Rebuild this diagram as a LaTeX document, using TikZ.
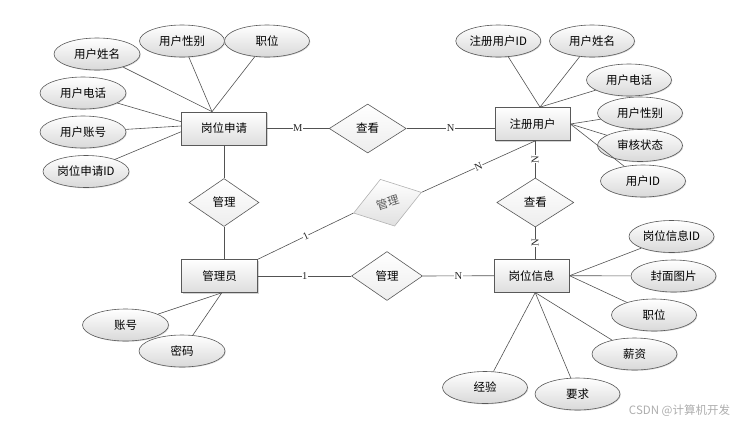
\documentclass[tikz,border=0pt]{standalone}
\usepackage{fontspec}
\setmainfont{Liberation Serif}
\newfontfamily\cjk{Noto Sans CJK SC}
\usetikzlibrary{shapes.geometric,shadows,calc}

\begin{document}
\begin{tikzpicture}[x=1pt,y=-1pt,
  ln/.style={draw=black!68, line width=0.6pt},
  txt/.style={font=\cjk\fontsize{11.5}{13}\selectfont},
  ent/.style={txt, rectangle, draw=black!65, line width=0.7pt, top color=white, bottom color=black!13,
     minimum height=33pt, inner sep=0pt,
     drop shadow={shadow xshift=1.2pt, shadow yshift=-1.2pt, opacity=0.35}},
  attr/.style={txt, ellipse, draw=black!65, line width=0.6pt, top color=white, bottom color=black!15,
     minimum width=85pt, minimum height=32pt, inner sep=0pt,
     drop shadow={shadow xshift=0.8pt, shadow yshift=-0.8pt, opacity=0.3}},
  rel/.style={txt, diamond, draw=black!65, line width=0.6pt, top color=white, bottom color=black!7,
     minimum width=77pt, minimum height=49pt, inner sep=0pt},
  card/.style={font=\fontsize{10.5}{11}\selectfont, inner sep=0.4pt, fill=white, text=black!85}
]
\useasboundingbox (0,0) rectangle (747,424);

% entities
\node[ent, minimum width=85pt] (pa) at (224,128.5) {岗位申请};
\node[ent, minimum width=75pt] (ru) at (532.5,124) {注册用户};
\node[ent, minimum width=76pt] (ad) at (219.7,276) {管理员};
\node[ent, minimum width=75pt] (pi) at (531.7,275.7) {岗位信息};

% relationships
\node[rel] (v1) at (367.7,128.5) {查看};
\node[rel, minimum width=70pt, minimum height=48pt] (m1) at (224,202.5) {管理};
\node[rel, minimum width=71pt, minimum height=49pt, rotate=17, draw=black!30, top color=white, bottom color=black!12, text=black!65] (m2) at (387.5,202.7) {管理};
\node[rel] (v2) at (535.3,202.5) {查看};
\node[rel, minimum width=71pt] (m3) at (387,276) {管理};

% attributes of 岗位申请
\node[attr, minimum width=86pt] (a1) at (97,54) {用户姓名};
\node[attr] (a2) at (182,41) {用户性别};
\node[attr] (a3) at (267,41) {职位};
\node[attr, minimum width=86pt] (a4) at (83,93) {用户电话};
\node[attr, minimum width=86pt] (a5) at (83,132) {用户账号};
\node[attr, minimum width=86pt] (a6) at (86,171.5) {岗位申请ID};

% attributes of 注册用户
\node[attr] (b1) at (498.3,41) {注册用户ID};
\node[attr] (b2) at (592,41) {用户姓名};
\node[attr] (b3) at (629,80) {用户电话};
\node[attr] (b4) at (640,113) {用户性别};
\node[attr] (b5) at (640,145.5) {审核状态};
\node[attr] (b6) at (643,181) {用户ID};

% attributes of 岗位信息
\node[attr] (c1) at (671.5,236.5) {岗位信息ID};
\node[attr] (c2) at (673.5,276) {封面图片};
\node[attr] (c3) at (654,315) {职位};
\node[attr] (c4) at (634.5,354) {薪资};
\node[attr] (c5) at (577.5,394) {要求};
\node[attr] (c6) at (485,387.5) {经验};

% attributes of 管理员
\node[attr, minimum width=86pt] (d1) at (125.5,325) {账号};
\node[attr, minimum width=86pt] (d2) at (182,351) {密码};

% attribute lines
\coordinate (pat) at ([xshift=-12pt]pa.north);
\draw[ln] (a1) -- (pat);
\draw[ln] (a2) -- (pat);
\draw[ln] (a3) -- (pat);
\draw[ln] (a4) -- ([yshift=6.8pt]pa.west);
\draw[ln] (a5) -- ([yshift=2.5pt]pa.west);
\draw[ln] (a6) -- ([yshift=-3.2pt]pa.west);

\coordinate (rut) at ([xshift=7.5pt]ru.north);
\draw[ln] (b1) -- (rut);
\draw[ln] (b2) -- (rut);
\draw[ln] (b3) -- (rut);
\draw[ln] (b4) -- (ru.east);
\draw[ln] (b5) -- (ru.east);
\draw[ln] (b6) -- (ru.east);

\coordinate (pib) at ([xshift=3.5pt]pi.south);
\draw[ln] (c1) -- (pi.east);
\draw[ln] (c2) -- (pi.east);
\draw[ln] (c3) -- (pi.east);
\draw[ln] (c4) -- (pib);
\draw[ln] (c5) -- (pib);
\draw[ln] (c6) -- (pib);

\coordinate (adb) at ([xshift=2pt]ad.south);
\draw[ln] (d1) -- (adb);
\draw[ln] (d2) -- (adb);

% relationship lines
\draw[ln] (pa.east) -- node[card] {M} (v1.west);
\draw[ln] (v1.east) -- node[card] {N} (v1.east -| ru.west);
\draw[ln] (pa.south) -- (m1.north);
\draw[ln] (m1.south) -- (m1.south |- ad.north);
\draw[ln] (ad.north east) -- node[card, sloped] {1} (m2.west);
\draw[ln] (m2.east) -- node[card, sloped] {N} (v2.north |- ru.south);
\draw[ln] (v2.north |- ru.south) -- node[card, rotate=90] {N} (v2.north);
\draw[ln] (v2.south) -- node[card, rotate=90] {N} (v2.south |- pi.north);
\draw[ln] (ad.east) -- node[card] {1} (m3.west);
\draw[ln] (m3.east) -- node[card] {N} (pi.west);

% watermark
\node[font=\cjk\fontsize{11.5}{13}\selectfont, text=black!32, inner sep=0pt] (wm) at (679.5,411) {CSDN @计算机开发};
\end{tikzpicture}
\end{document}
